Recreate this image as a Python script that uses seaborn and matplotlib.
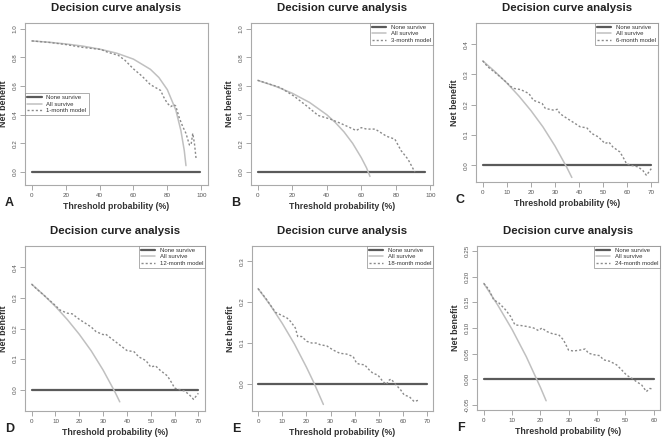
import matplotlib
matplotlib.use("Agg")
import matplotlib.pyplot as plt
import seaborn as sns

# ---- data ----
# panel A (1-month)
a_none_x = [0, 99]
a_all_x = [0, 10, 20, 30, 40, 50, 60, 70, 75, 80, 85, 88, 90, 91]
a_all_y = [0.915, 0.906, 0.894, 0.879, 0.858, 0.830, 0.788, 0.717, 0.660, 0.575, 0.433, 0.290, 0.150, 0.045]
a_mod_x = [0, 10, 20, 30, 41, 45, 51, 55, 60, 65, 70, 76, 78, 80, 82, 84, 85, 87, 89, 91, 93, 94, 95, 96, 97]
a_mod_y = [0.915, 0.905, 0.89, 0.87, 0.855, 0.835, 0.815, 0.78, 0.72, 0.67, 0.61, 0.57, 0.52, 0.48, 0.457, 0.47, 0.46, 0.38, 0.32, 0.27, 0.19, 0.19, 0.27, 0.20, 0.09]

# panel B (3-month)
b_none_x = [0, 97]
b_all_x = [0, 10, 20, 30, 40, 45, 50, 55, 60, 63, 65]
b_all_y = [0.64, 0.60, 0.55, 0.486, 0.40, 0.345, 0.28, 0.20, 0.10, 0.03, -0.03]
b_mod_x = [0, 13, 21, 28.5, 35, 42, 48, 53.5, 57, 60, 63, 68, 74.6, 79.4, 83, 87, 91]
b_mod_y = [0.64, 0.59, 0.53, 0.46, 0.395, 0.37, 0.34, 0.31, 0.29, 0.31, 0.30, 0.30, 0.25, 0.23, 0.15, 0.09, 0.0]

# panel C (6-month)
c_none_x = [0, 70]
c_all_x = [0, 5, 10, 15, 20, 25, 30, 35, 37]
c_all_y = [0.345, 0.31, 0.272, 0.229, 0.181, 0.127, 0.064, -0.008, -0.04]
c_mod_x = [0, 2, 5.5, 9.6, 11.7, 13, 15.8, 19.2, 21, 24.7, 26, 29.5, 31, 32, 35, 38.4, 40.5, 43.2, 45.3, 48,
           50.8, 52.4, 54, 57, 59, 59.7, 61.7, 64.5, 66.5, 68, 70]
c_mod_y = [0.345, 0.326, 0.304, 0.276, 0.26, 0.254, 0.25, 0.237, 0.215, 0.204, 0.188, 0.182, 0.185, 0.171, 0.155,
           0.138, 0.127, 0.124, 0.105, 0.094, 0.072, 0.077, 0.061, 0.044, 0.017, 0.005, 0.0, -0.005, -0.017, -0.033, -0.011]

# panel D (12-month)
d_none_x = [0, 70]
d_all_x = [0, 5, 10, 15, 20, 25, 30, 35, 37]
d_all_y = [0.345, 0.31, 0.272, 0.229, 0.181, 0.127, 0.064, -0.008, -0.04]
d_mod_x = [0, 2, 5, 10, 12, 15, 17, 20, 23, 25, 27, 30, 31, 33, 35, 38, 40, 43, 45, 48, 50, 52, 54, 57, 59,
           60, 62, 64, 66, 68, 70]
d_mod_y = [0.345, 0.33, 0.31, 0.275, 0.26, 0.25, 0.248, 0.23, 0.215, 0.205, 0.19, 0.18, 0.182, 0.17, 0.158, 0.14,
           0.128, 0.124, 0.107, 0.095, 0.074, 0.078, 0.063, 0.045, 0.02, 0.005, 0.0, -0.004, -0.015, -0.032, -0.012]

# panel E (18-month)
e_none_x = [0, 70]
e_all_x = [0, 5, 10, 15, 20, 23, 25, 27]
e_all_y = [0.233, 0.193, 0.148, 0.098, 0.041, 0.004, -0.023, -0.05]
e_mod_x = [0, 3.1, 5.2, 7.2, 9.3, 12, 13.4, 15.4, 16.4, 18, 20.2, 22.2, 24.3, 25.6, 28.4, 31, 33.8, 36.6, 39.3,
           40.7, 42, 44, 46, 47.5, 49.5, 51.6, 53, 54.3, 55, 57, 59, 60.4, 62.5, 64.5, 66.6]
e_mod_y = [0.233, 0.21, 0.192, 0.175, 0.169, 0.161, 0.153, 0.137, 0.116, 0.116, 0.104, 0.1, 0.1, 0.096, 0.093,
           0.083, 0.075, 0.073, 0.067, 0.051, 0.048, 0.047, 0.034, 0.026, 0.022, 0.006, -0.001, 0.01, 0.012,
           -0.002, -0.015, -0.027, -0.031, -0.043, -0.039]

# panel F (24-month)
f_none_x = [0, 60]
f_all_x = [0, 5, 10, 15, 20, 22]
f_all_y = [0.187, 0.144, 0.097, 0.044, -0.016, -0.042]
f_mod_x = [0, 1.8, 3.5, 5.3, 7.6, 9.4, 11, 12.9, 15.2, 17.6, 19.3, 20.5, 22.3, 24.6, 26.4, 28.1, 29.9, 31.6, 34,
           35.8, 36.9, 38.7, 41, 42.2, 44.5, 46.9, 48.7, 50.4, 52.2, 54, 55.7, 57.4, 58.6, 59.8]
f_mod_y = [0.187, 0.175, 0.155, 0.149, 0.136, 0.123, 0.106, 0.105, 0.103, 0.1, 0.095, 0.1, 0.093, 0.088, 0.087,
           0.077, 0.057, 0.055, 0.057, 0.059, 0.051, 0.048, 0.046, 0.038, 0.035, 0.028, 0.018, 0.008, 0.002,
           -0.005, -0.011, -0.024, -0.018, -0.019]

model_names = ["1-month model", "3-month model", "6-month model", "12-month model", "18-month model", "24-month model"]
panel_letters = ["A", "B", "C", "D", "E", "F"]

sns.set_style("white")
plt.rcParams['font.family'] = ['Liberation Sans', 'DejaVu Sans']

W, H = 662, 437
fig = plt.figure(figsize=(W / 100, H / 100), dpi=100)

# axes boxes in pixels: left, right, top, bottom
boxes = [(25, 208, 23, 185), (251, 433, 23, 185), (476, 658, 23, 182),
         (25, 205, 246, 411), (252, 433, 246, 411), (477, 660, 246, 410)]

panels = [
    (a_none_x, a_all_x, a_all_y, a_mod_x, a_mod_y, (-4, 104), (-0.09, 1.04), [0, 0.2, 0.4, 0.6, 0.8, 1.0], "%.1f", [0, 20, 40, 60, 80, 100]),
    (b_none_x, b_all_x, b_all_y, b_mod_x, b_mod_y, (-3.9, 101.5), (-0.09, 1.04), [0, 0.2, 0.4, 0.6, 0.8, 1.0], "%.1f", [0, 20, 40, 60, 80, 100]),
    (c_none_x, c_all_x, c_all_y, c_mod_x, c_mod_y, (-2.8, 72.8), (-0.055, 0.47), [0, 0.1, 0.2, 0.3, 0.4], "%.1f", [0, 10, 20, 30, 40, 50, 60, 70]),
    (d_none_x, d_all_x, d_all_y, d_mod_x, d_mod_y, (-2.8, 72.8), (-0.07, 0.47), [0, 0.1, 0.2, 0.3, 0.4], "%.1f", [0, 10, 20, 30, 40, 50, 60, 70]),
    (e_none_x, e_all_x, e_all_y, e_mod_x, e_mod_y, (-2.5, 72.3), (-0.066, 0.337), [0, 0.1, 0.2, 0.3], "%.1f", [0, 10, 20, 30, 40, 50, 60, 70]),
    (f_none_x, f_all_x, f_all_y, f_mod_x, f_mod_y, (-2.4, 62.2), (-0.06, 0.26), [-0.05, 0, 0.05, 0.1, 0.15, 0.2, 0.25], "%.2f", [0, 10, 20, 30, 40, 50, 60]),
]

for i, (box, p) in enumerate(zip(boxes, panels)):
    l, r, t, b = box
    ax = fig.add_axes([l / W, 1 - b / H, (r - l) / W, (b - t) / H])
    none_x, all_x, all_y, mod_x, mod_y, xlim, ylim, yticks, yfmt, xticks = p

    sns.lineplot(x=none_x, y=[0] * len(none_x), ax=ax, color="#5a5a5a", lw=1.6, label="None survive")
    sns.lineplot(x=all_x, y=all_y, ax=ax, color="#c0c0c0", lw=1.1, label="All survive")
    sns.lineplot(x=mod_x, y=mod_y, ax=ax, color="#8a8a8a", lw=1.0, linestyle=(0, (1.5, 1.5)), label=model_names[i])

    ax.set_xlim(*xlim)
    ax.set_ylim(*ylim)
    ax.set_xticks(xticks)
    ax.set_xticklabels([str(x) for x in xticks])
    ax.set_yticks(yticks)
    ax.set_yticklabels([yfmt % y for y in yticks], rotation=90, va="center")
    ax.tick_params(axis="both", direction="out", length=3.5, width=0.6, colors="#999999",
                   labelsize=4.5, labelcolor="#555555", pad=2, bottom=True, left=True)
    for s in ax.spines.values():
        s.set_color("#aaaaaa")
        s.set_linewidth(0.8)

    ax.set_title("Decision curve analysis", fontsize=8.2, fontweight="bold", color="#222222", pad=8.5)
    ax.set_xlabel("Threshold probability (%)", fontsize=6.3, fontweight="bold", color="#333333", labelpad=3)
    ax.set_ylabel("Net benefit", fontsize=6.4, fontweight="bold", color="#333333", labelpad=3)

    if i == 0:
        leg = ax.legend(loc="center left", bbox_to_anchor=(0.0, 0.5), fontsize=4.3, frameon=True,
                        fancybox=False, borderpad=0.4, handlelength=2.4, labelspacing=0.2, borderaxespad=0)
    else:
        leg = ax.legend(loc="upper right", fontsize=4.3, frameon=True, fancybox=False,
                        borderpad=0.3, handlelength=2.4, labelspacing=0.2, borderaxespad=0)
    leg.get_frame().set_edgecolor("#888888")
    leg.get_frame().set_linewidth(0.6)
    for txt in leg.get_texts():
        txt.set_color("#333333")

    fig.text((l - 20) / W, 1 - (b + 18) / H, panel_letters[i], fontsize=9, fontweight="bold",
             color="#222222", ha="left", va="center")

fig.savefig("out.png", dpi=100)
